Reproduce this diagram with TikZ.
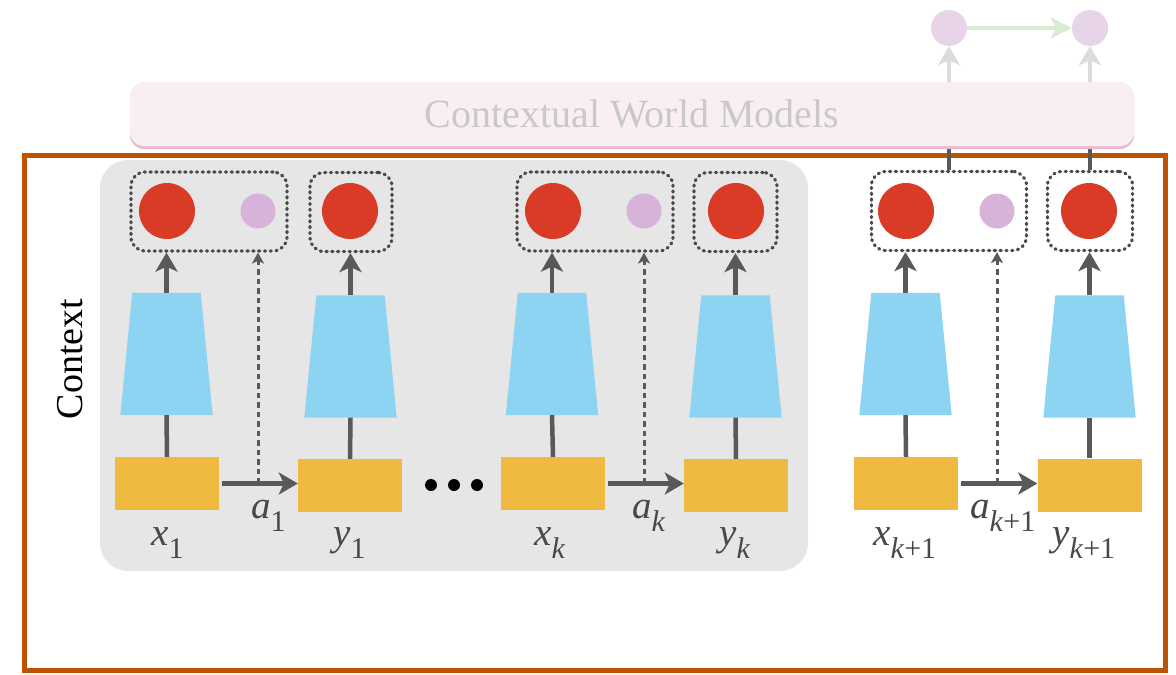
\documentclass[tikz,border=0pt]{standalone}
\usepackage{fontspec}
\setmainfont{Liberation Serif}
\usetikzlibrary{arrows.meta}

\definecolor{obsyellow}{HTML}{EFBA3F}
\definecolor{encblue}{HTML}{8DD3F2}
\definecolor{latentred}{HTML}{D93B27}
\definecolor{actpurple}{HTML}{D7B3DA}
\definecolor{linegray}{HTML}{595959}
\definecolor{dotgray}{HTML}{4A4A4A}
\definecolor{labelgray}{HTML}{484848}
\definecolor{ctxbg}{HTML}{E6E6E6}
\definecolor{frameorange}{HTML}{BD5200}
\definecolor{pinkfill}{HTML}{F9EEF2}
\definecolor{pinkedge}{HTML}{EBBACC}
\definecolor{cwmtext}{HTML}{C9C9C9}
\definecolor{fadedpurple}{HTML}{E8D4E8}
\definecolor{fadedgreen}{HTML}{D6EDD1}
\definecolor{fadedgray}{HTML}{DCDCDC}

% label with a lowered subscript
\newcommand\lab[2]{\textit{#1}\raisebox{-13.5pt}{\fontsize{30}{30}\selectfont #2}}

\begin{document}
\begin{tikzpicture}[x=1pt,y=-1pt,
  obs/.style={rectangle, fill=obsyellow, minimum width=104pt, minimum height=53pt, inner sep=0pt},
  encbox/.style={rectangle, minimum width=92pt, minimum height=122pt, inner sep=0pt},
  latent/.style={circle, fill=latentred, minimum size=56pt, inner sep=0pt},
  act/.style={circle, fill=actpurple, minimum size=35pt, inner sep=0pt},
  grp/.style={rectangle, draw=dotgray, line width=3.2pt, line cap=round,
              dash pattern=on 1.2pt off 4.6pt,
              rounded corners=14pt, minimum height=79pt, inner sep=0pt},
  link/.style={draw=linegray, line width=4.5pt},
  flow/.style={draw=linegray, line width=4.5pt, -{Stealth[length=19pt,width=22pt,inset=5pt]}},
  actflow/.style={draw=linegray, line width=3pt, dash pattern=on 5.5pt off 4pt,
                  -{Stealth[length=11pt,width=12pt,inset=3pt]}},
  fadedflow/.style={draw=fadedgray, line width=4pt, -{Stealth[length=19pt,width=22pt,inset=5pt]}},
  greenflow/.style={draw=fadedgreen, line width=4pt, -{Stealth[length=21pt,width=21pt,inset=5pt]}},
  lbl/.style={text=labelgray, font=\fontsize{39}{39}\selectfont, inner sep=0pt, anchor=base west},
  topcirc/.style={circle, fill=fadedpurple, minimum size=36pt, inner sep=0pt}
]
\useasboundingbox (0,0) rectangle (1176,675);

% context panel and outer frame
\node[fill=ctxbg, rounded corners=28pt, minimum width=708pt, minimum height=411pt, inner sep=0pt]
  (ctxbox) at (454,365.5) {};
\draw[frameorange, line width=5pt] (24.5,155) rectangle (1165,670);
\node[rotate=90, font=\fontsize{38}{38}\selectfont, inner sep=0pt] (ctx) at (70,359) {Context};

% observations
\node[obs] (x1)  at (167,483.5) {};
\node[obs] (y1)  at (350,485.5) {};
\node[obs] (xk)  at (553,483.5) {};
\node[obs] (yk)  at (736,485.5) {};
\node[obs] (xk1) at (906,483.5) {};
\node[obs] (yk1) at (1089.5,485) {};

% encoders: tapered blocks, 92pt wide at the bottom and 68pt at the top
\node[encbox] (ex1)  at (166.5,354) {};
\node[encbox] (ey1)  at (350.5,356.5) {};
\node[encbox] (exk)  at (552,354) {};
\node[encbox] (eyk)  at (735.5,356.5) {};
\node[encbox] (exk1) at (905.5,354) {};
\node[encbox] (eyk1) at (1089.5,356.5) {};
\foreach \e in {ex1, ey1, exk, eyk, exk1, eyk1}
  \fill[encblue] (\e.south west) -- (\e.south east)
    -- ([xshift=-12pt]\e.north east) -- ([xshift=12pt]\e.north west) -- cycle;

% latent states and actions
\node[latent] (zx1)  at (167,211) {};
\node[latent] (zy1)  at (350,211) {};
\node[latent] (zxk)  at (553,211) {};
\node[latent] (zyk)  at (736,211) {};
\node[latent] (zxk1) at (906,211) {};
\node[latent] (zyk1) at (1089,211) {};
\node[act] (p1)  at (258,211) {};
\node[act] (pk)  at (644,211) {};
\node[act] (pk1) at (997,211) {};

% dotted groups
\node[grp, minimum width=156pt] (g1) at (209,211.5) {};
\node[grp, minimum width=82pt]  (g2) at (351,212) {};
\node[grp, minimum width=156pt] (g3) at (595,211.5) {};
\node[grp, minimum width=83pt]  (g4) at (735.5,212) {};
\node[grp, minimum width=155pt] (g5) at (949,211) {};
\node[grp, minimum width=85pt]  (g6) at (1090,211) {};

% observation -> encoder
\foreach \o/\e in {x1/ex1, y1/ey1, xk/exk, yk/eyk, xk1/exk1, yk1/eyk1}
  \draw[link] (\o.north) -- (\e.south);

% encoder -> latent group
\foreach \e/\g in {ex1/g1, ey1/g2, exk/g3, eyk/g4, exk1/g5, eyk1/g6}
  \draw[flow] (\e.north) -- (\e.north |- \g.south);

% action transitions
\foreach \a/\b/\p/\g in {x1/y1/p1/g1, xk/yk/pk/g3, xk1/yk1/pk1/g5} {
  \draw[flow, shorten <=3pt] (\a.east) -- (\b.west |- \a.east);
  \draw[actflow] (\p |- \a.east) -- (\p |- \g.south);
}

% ellipsis
\fill (431,485) circle (6pt);
\fill (454,485) circle (6pt);
\fill (477,485) circle (6pt);

% labels
\node[lbl] (lx1)  at (151,545) {\lab{x}{1}};
\node[lbl] (ly1)  at (333,545) {\lab{y}{1}};
\node[lbl] (lxk)  at (534,545) {\lab{x}{\textit{k}}};
\node[lbl] (lyk)  at (719,545) {\lab{y}{\textit{k}}};
\node[lbl] (lxk1) at (873,545) {\lab{x}{\textit{k}+1}};
\node[lbl] (lyk1) at (1052,545) {\lab{y}{\textit{k}+1}};
\node[lbl] (la1)  at (251,518) {\lab{a}{1}};
\node[lbl] (lak)  at (632,518) {\lab{a}{\textit{k}}};
\node[lbl] (lak1) at (970,518) {\lab{a}{\textit{k}+1}};

% contextual world model
\coordinate (cwmb) at (632,146);
\draw[link] (g5.north) -- (g5.north |- cwmb);
\draw[link] (g6.north) -- (g6.north |- cwmb);
\node[fill=pinkfill, rounded corners=14pt, minimum width=1004pt, minimum height=64pt, inner sep=0pt,
      preaction={fill=pinkedge, transform canvas={yshift=-3pt}},
      text=cwmtext, font=\fontsize{40}{40}\selectfont]
  (cwm) at (632,114) {Contextual World Models};

\node[topcirc] (w1) at (949,28) {};
\node[topcirc] (w2) at (1090,28) {};
\draw[fadedflow] (g5.north |- cwm.north) -- (w1.south);
\draw[fadedflow] (g6.north |- cwm.north) -- (w2.south);
\draw[greenflow] (w1.east) -- (w2.west);
\end{tikzpicture}
\end{document}
